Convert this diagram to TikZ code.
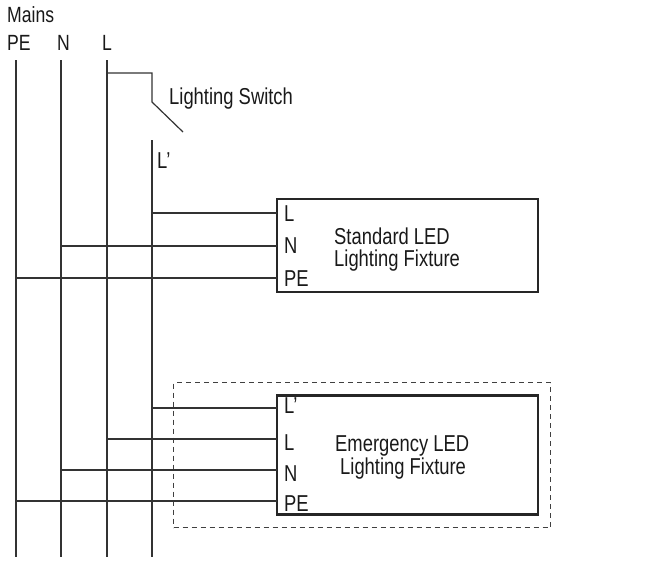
\documentclass[tikz,border=0pt]{standalone}
\usepackage{fontspec}
\setmainfont{Liberation Sans}[FakeStretch=0.8]
\begin{document}
\begin{tikzpicture}[x=1pt,y=-1pt,
  wire/.style={draw=black!80,line width=1.2pt},
  fixture/.style={draw=black!85,line width=2.4pt,fill=none,inner sep=0pt},
  frame/.style={draw=black!75,line width=1.1pt,dash pattern=on 5pt off 4pt},
  lbl/.style={anchor=base west,inner sep=0pt,font=\fontsize{23}{25}\selectfont,text=black!90},
  hdr/.style={anchor=base west,inner sep=0pt,font=\fontsize{22}{24}\selectfont,text=black!90}]
\useasboundingbox (0,0) rectangle (648,565);
% headers
\node[hdr] (mains) at (7,22) {Mains};
\node[hdr] (tPE) at (7,50) {PE};
\node[hdr] (tN) at (57,50) {N};
\node[hdr] (tL) at (102,50) {L};
% bus coordinates
\coordinate (PEt) at (16,60); \coordinate (PEb) at (16,557);
\coordinate (Nt) at (61,60);  \coordinate (Nb) at (61,557);
\coordinate (Lt) at (107,60); \coordinate (Lb) at (107,557);
\coordinate (Lpt) at (152,140); \coordinate (Lpb) at (152,557);
\coordinate (sw1) at (152,73); \coordinate (sw2) at (152,102); \coordinate (sw3) at (183,132);
\draw[wire] (PEt) -- (PEb);
\draw[wire] (Nt) -- (Nb);
\draw[wire] (Lt) -- (Lb);
\draw[wire] (Lpt) -- (Lpb);
\draw[wire] (Lt |- sw1) -- (sw1) -- (sw2) -- (sw3);
\node[lbl] (swl) at (169,104) {Lighting Switch};
\node[lbl] (lpl) at (157,168) {L’};
% standard fixture
\node[fixture,minimum width=261pt,minimum height=93pt] (std) at (407.5,245.5) {};
\coordinate (sL) at (277,213); \coordinate (sN) at (277,246); \coordinate (sPE) at (277,278);
\draw[wire] (Lpt |- sL) -- (sL);
\draw[wire] (Nt |- sN) -- (sN);
\draw[wire] (PEt |- sPE) -- (sPE);
\node[lbl] (sLl) at (284,221) {L};
\node[lbl] (sNl) at (284,253) {N};
\node[lbl] (sPEl) at (284,286) {PE};
\node[lbl] (st1) at (334,244) {Standard LED};
\node[lbl] (st2) at (334,266) {Lighting Fixture};
% emergency fixture
\node[frame,minimum width=377pt,minimum height=145pt,inner sep=0pt] (grp) at (362,455) {};
\node[fixture,minimum width=261pt,minimum height=119pt] (emg) at (407.5,455) {};
\coordinate (eLp) at (277,408); \coordinate (eL) at (277,439); \coordinate (eN) at (277,470); \coordinate (ePE) at (277,501);
\draw[wire] (Lpt |- eLp) -- (eLp);
\draw[wire] (Lt |- eL) -- (eL);
\draw[wire] (Nt |- eN) -- (eN);
\draw[wire] (PEt |- ePE) -- (ePE);
\node[lbl] (eLpl) at (284,413) {L’};
\node[lbl] (eLl) at (284,450) {L};
\node[lbl] (eNl) at (284,481) {N};
\node[lbl] (ePEl) at (284,511) {PE};
\node[lbl] (et1) at (335,451) {Emergency LED};
\node[lbl] (et2) at (340,474) {Lighting Fixture};
\end{tikzpicture}
\end{document}
